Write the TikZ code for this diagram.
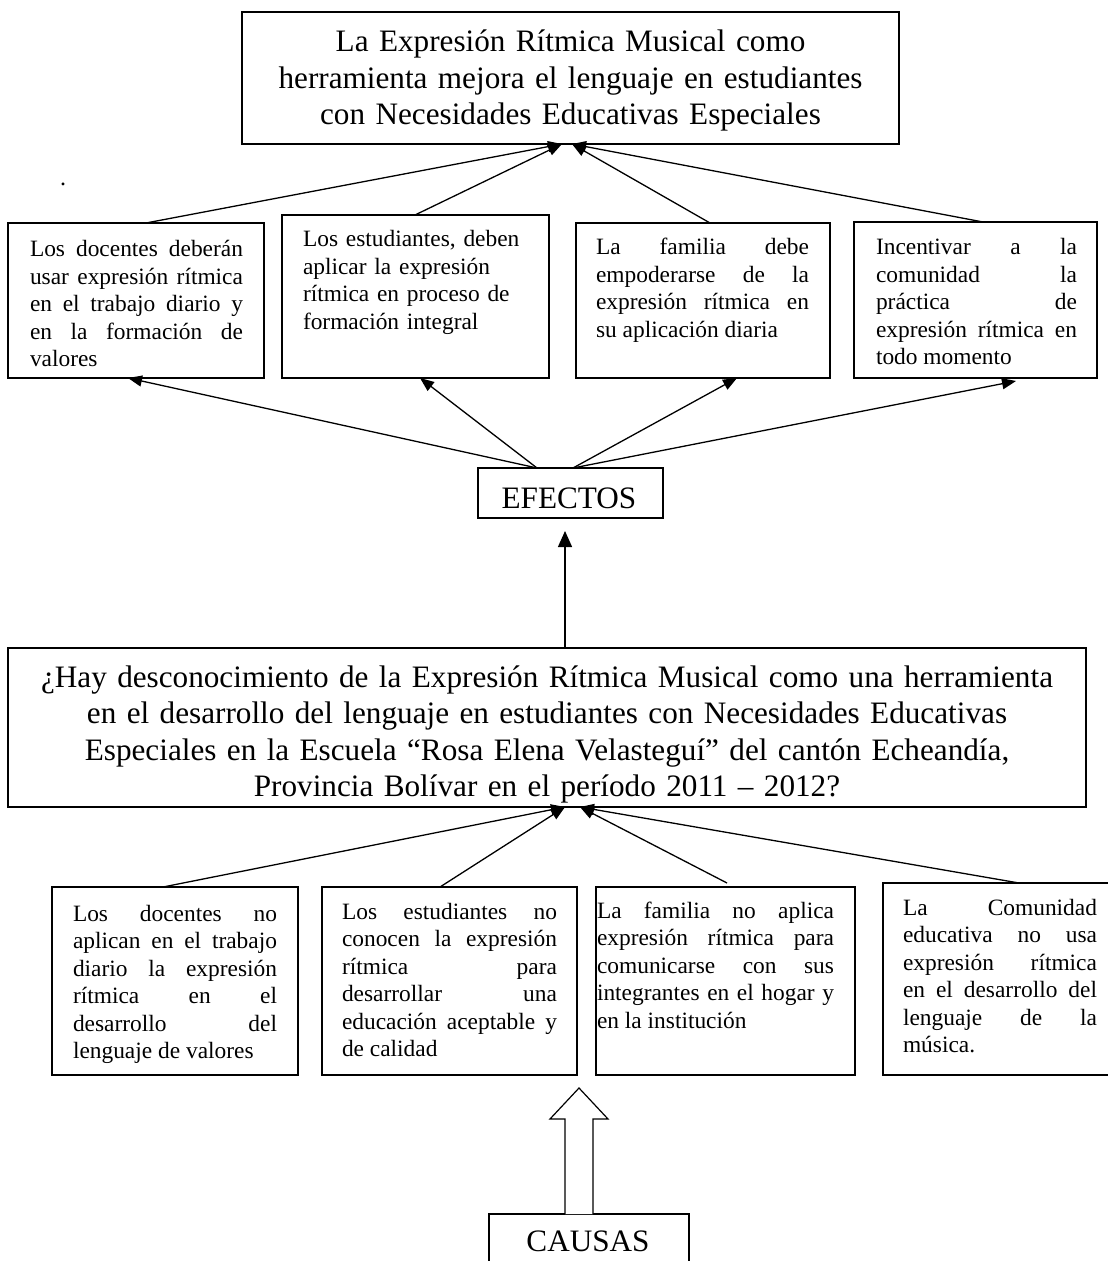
\documentclass[tikz,border=0pt]{standalone}
\usepackage{fontspec}
\setmainfont{Liberation Serif}
\usetikzlibrary{arrows.meta}
\hyphenpenalty=10000
\exhyphenpenalty=10000
\tolerance=10000
\hbadness=10000
\tikzset{
  box/.style={draw, line width=0.6pt, rectangle, inner sep=0pt, outer sep=0pt, anchor=north west},
  small/.style={inner sep=0pt, outer sep=0pt, anchor=north west, font=\fontsize{11.7}{13.75}\selectfont},
  big/.style={inner sep=0pt, outer sep=0pt, font=\fontsize{15.6}{18.25}\selectfont},
  arr/.style={line width=0.65pt, -{Triangle[length=7pt,width=5.5pt]}},
  bigarr/.style={line width=0.65pt, -{Triangle[length=8pt,width=7pt]}},
  hollow/.style={draw, line width=0.6pt, fill=white},
}
\begin{document}
\begin{tikzpicture}[x=0.5pt,y=-0.5pt]
\useasboundingbox (0,0) rectangle (1107,1261);

% ---------- title ----------
\node[box, minimum width=328.5pt, minimum height=66pt] (title) at (242,12) {};
\node[big, anchor=north, text width=320pt, align=center] (titlet) at (570.5,26.45)
  {\strut La Expresión Rítmica Musical como\\herramienta mejora el lenguaje en estudiantes\\con Necesidades Educativas Especiales};
\node[inner sep=0pt, anchor=base, font=\fontsize{12}{13.75}\selectfont] (dot) at (63,186) {.};

% ---------- effects ----------
\node[box, minimum width=128pt, minimum height=77.5pt] (e1) at (8,223) {};
\node[box, minimum width=133.5pt, minimum height=81.5pt] (e2) at (282,215) {};
\node[box, minimum width=127pt, minimum height=77.5pt] (e3) at (576,223) {};
\node[box, minimum width=121.5pt, minimum height=78pt] (e4) at (854,222) {};

\node[small, text width=106.5pt, align=justify] (e1t) at (30,237.75)
  {\strut Los docentes deberán\linebreak usar expresión rítmica\linebreak en el trabajo diario y\linebreak en la formación de\linebreak valores};
\node[small, text width=125pt, align=left] (e2t) at (303,227.75)
  {\strut Los estudiantes, deben\\aplicar la expresión\\rítmica en proceso de\\formación integral};
\node[small, text width=106.5pt, align=justify] (e3t) at (596,235.75)
  {\strut La familia debe\linebreak empoderarse de la\linebreak expresión rítmica en\linebreak su aplicación diaria};
\node[small, text width=100.5pt, align=justify] (e4t) at (876,235.75)
  {\strut Incentivar a la\linebreak comunidad la\linebreak práctica de\linebreak expresión rítmica en\linebreak todo momento};

\coordinate (tL) at ([xshift=160pt]title.south west);
\coordinate (tR) at ([xshift=165pt]title.south west);
\draw[arr] ([xshift=69pt]e1.north west) -- (tL);
\draw[arr] ([xshift=66.5pt]e2.north west) -- (tL);
\draw[arr] ([xshift=67pt]e3.north west) -- (tR);
\draw[arr] ([xshift=64.5pt]e4.north west) -- (tR);

% ---------- EFECTOS ----------
\node[box, minimum width=92.5pt, minimum height=25pt] (ef) at (478,468) {};
\node[big, anchor=base] (eft) at (569,508) {EFECTOS};
\draw[arr] ([xshift=29.5pt]ef.north west) -- ([xshift=60pt]e1.south west);
\draw[arr] ([xshift=29.5pt]ef.north west) -- ([xshift=69pt]e2.south west);
\draw[arr] ([xshift=47.5pt]ef.north west) -- ([xshift=80.5pt]e3.south west);
\draw[arr] ([xshift=47.5pt]ef.north west) -- ([xshift=81pt,yshift=-1.5pt]e4.south west);

% ---------- question ----------
\node[box, minimum width=539pt, minimum height=79.5pt] (q) at (8,648) {};
\node[big, anchor=north, text width=535pt, align=center] (qt) at (547,661.45)
  {\strut ¿Hay desconocimiento de la Expresión Rítmica Musical como una herramienta\\en el desarrollo del lenguaje en estudiantes con Necesidades Educativas\\Especiales en la Escuela “Rosa Elena Velasteguí” del cantón Echeandía,\\Provincia Bolívar en el período 2011 – 2012?};
\draw[bigarr] ([xshift=278.5pt]q.north west) -- ([xshift=43.5pt,yshift=-6.5pt]ef.south west);

% ---------- causes ----------
\node[box, minimum width=123pt, minimum height=94pt] (c1) at (52,887) {};
\node[box, minimum width=127.5pt, minimum height=94pt] (c2) at (322,887) {};
\node[box, minimum width=129.5pt, minimum height=94pt] (c3) at (596,887) {};
\node[box, minimum width=115pt, minimum height=96pt] (c4) at (883,883) {};

\node[small, text width=102pt, align=justify] (c1t) at (73,901.75)
  {\strut Los docentes no\linebreak aplican en el trabajo\linebreak diario la expresión\linebreak rítmica en el\linebreak desarrollo del\linebreak lenguaje de valores};
\node[small, text width=107.5pt, align=justify] (c2t) at (342,899.75)
  {\strut Los estudiantes no\linebreak conocen la expresión\linebreak rítmica para\linebreak desarrollar una\linebreak educación aceptable y\linebreak de calidad};
\node[small, text width=118.5pt, align=justify] (c3t) at (597,898.75)
  {\strut La familia no aplica\linebreak expresión rítmica para\linebreak comunicarse con sus\linebreak integrantes en el hogar y\linebreak en la institución};
\node[small, text width=97pt, align=justify] (c4t) at (903,895.75)
  {\strut La Comunidad\linebreak educativa no usa\linebreak expresión rítmica\linebreak en el desarrollo del\linebreak lenguaje de la\linebreak música.};

\coordinate (qL) at ([xshift=278.5pt]q.south west);
\coordinate (qR) at ([xshift=286pt]q.south west);
\draw[arr] ([xshift=55.5pt]c1.north west) -- (qL);
\draw[arr] ([xshift=59pt]c2.north west) -- (qL);
\draw[arr] ([xshift=65.5pt,yshift=2pt]c3.north west) -- (qR);
\draw[arr] ([xshift=68pt]c4.north west) -- (qR);

% ---------- CAUSAS ----------
\node[box, minimum width=100pt, minimum height=30pt] (ca) at (489,1214) {};
\node[big, anchor=base] (cat) at (588,1251) {CAUSAS};
\draw[hollow] ([xshift=38pt]ca.north west) -- ++(0,-95) -- ++(-15,0) -- ++(29,-31)
  -- ++(29,31) -- ++(-15,0) -- ++(0,95);
\end{tikzpicture}
\end{document}
